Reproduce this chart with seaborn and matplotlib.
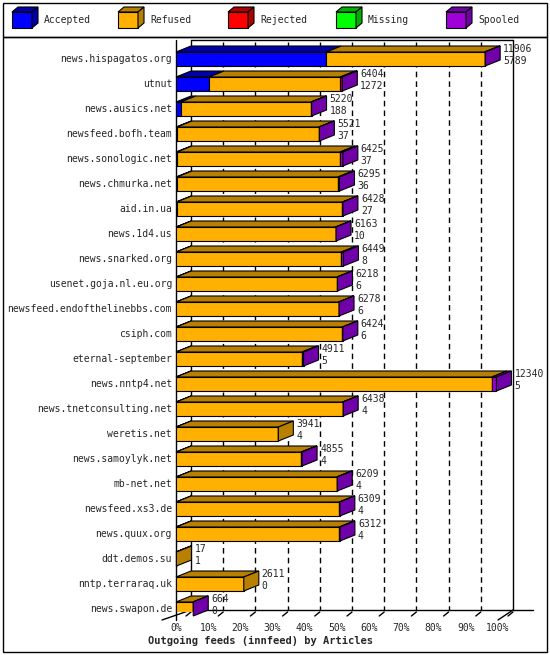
import matplotlib
matplotlib.use("Agg")
import matplotlib.pyplot as plt
import seaborn as sns
import numpy as np
from matplotlib.patches import Polygon, Rectangle

sns.set_style("white")
plt.rcParams['font.family'] = ['DejaVu Sans Mono']

hosts = ["news.hispagatos.org", "utnut", "news.ausics.net", "newsfeed.bofh.team",
         "news.sonologic.net", "news.chmurka.net", "aid.in.ua", "news.1d4.us",
         "news.snarked.org", "usenet.goja.nl.eu.org", "newsfeed.endofthelinebbs.com",
         "csiph.com", "eternal-september", "news.nntp4.net", "news.tnetconsulting.net",
         "weretis.net", "news.samoylyk.net", "mb-net.net", "newsfeed.xs3.de",
         "news.quux.org", "ddt.demos.su", "nntp.terraraq.uk", "news.swapon.de"]
offered = [11906, 6404, 5220, 5521, 6425, 6295, 6428, 6163, 6449, 6218, 6278, 6424,
           4911, 12340, 6438, 3941, 4855, 6209, 6309, 6312, 17, 2611, 664]
accepted = [5789, 1272, 188, 37, 37, 36, 27, 10, 8, 6, 6, 6, 5, 5, 4, 4, 4, 4, 4, 4, 1, 0, 0]
rejected = [0, 60, 0, 0, 0, 0, 0, 0, 0, 0, 0, 0, 0, 0, 0, 0, 0, 0, 0, 0, 0, 0, 0]
missing = [0] * 23
spooled = [20, 20, 20, 20, 110, 60, 20, 20, 80, 20, 20, 20, 60, 180, 20, 0, 30, 20, 20, 20, 0, 0, 5]
refused = [o - a - r - m - s for o, a, r, m, s in zip(offered, accepted, rejected, missing, spooled)]

names = ["Accepted", "Refused", "Rejected", "Missing", "Spooled"]
front = ["#0000ff", "#ffb000", "#ff0000", "#00ff00", "#a000d8"]
dark = ["#0000a8", "#b88000", "#b00000", "#00b000", "#7000a8"]

W, H = 550, 655
fig = plt.figure(figsize=(W / 100, H / 100), dpi=100)
XMAX = 12400
px_left, px_right, px_top, px_bot = 176, 498, 40, 612
ax = fig.add_axes([px_left / W, 1 - px_bot / H, (px_right - px_left) / W, (px_bot - px_top) / H])
row0, rowsp = 59, 25
ax.set_xlim(0, XMAX)
ax.set_ylim((px_bot - row0) / rowsp, (px_top - row0) / rowsp)
ax.axis("off")
dxd = 15 * XMAX / (px_right - px_left)
dyd = 6 / rowsp
bh = 14 / rowsp
FS = 7

segs = [accepted, refused, rejected, missing, spooled]
n = len(hosts)
ypos = np.arange(n)
left = np.zeros(n)
for k, seg in enumerate(segs):
    seg = np.array(seg, float)
    ax.barh(ypos, seg, left=left, height=bh, color=front[k], edgecolor="black", linewidth=0.8, zorder=3)
    for i in range(n):
        if seg[i] > 0:
            x0, x1 = left[i], left[i] + seg[i]
            yt = i - bh / 2
            ax.add_patch(Polygon([(x0, yt), (x1, yt), (x1 + dxd, yt - dyd), (x0 + dxd, yt - dyd)],
                                 closed=True, facecolor=dark[k], edgecolor="black", lw=0.8, zorder=3, clip_on=False))
    left += seg
for i in range(n):
    last = max(k for k in range(5) if segs[k][i] > 0)
    x1 = left[i]
    yt, yb = i - bh / 2, i + bh / 2
    ax.add_patch(Polygon([(x1, yb), (x1, yt), (x1 + dxd, yt - dyd), (x1 + dxd, yb - dyd)],
                         closed=True, facecolor=dark[last], edgecolor="black", lw=0.8, zorder=3, clip_on=False))
    tx = x1 + dxd + 3 * XMAX / 322
    ax.text(tx, i - 0.4, str(offered[i]), fontsize=FS, va="center", ha="left", zorder=4, clip_on=False)
    ax.text(tx, i + 0.08, str(accepted[i]), fontsize=FS, va="center", ha="left", zorder=4, clip_on=False)
    ax.text(-4 * XMAX / 322, i, hosts[i], fontsize=FS, va="center", ha="right", clip_on=False)

# overlay in pixel coordinates
ov = fig.add_axes([0, 0, 1, 1], zorder=-1)
ov.set_xlim(0, W); ov.set_ylim(H, 0); ov.axis("off")
ov.add_patch(Rectangle((3, 3), 544, 34, fill=False, lw=1, ec="black"))
ov.add_patch(Rectangle((3, 37), 544, 615, fill=False, lw=1, ec="black"))
step = (px_right - px_left) / 10
for j in range(11):
    x = px_left + 15 + j * step
    if j in (0, 10):
        ov.plot([x, x], [px_top, px_bot - 2], color="black", lw=1)
    else:
        ov.plot([x, x], [px_top + 2, px_bot - 2], color="black", lw=1, ls=(0, (4, 3)))
    xf = px_left + j * step
    ov.plot([xf + 10, xf + 15], [px_bot + 4, px_bot], color="black", lw=1)
    ov.text(xf, 628, f"{j*10}%", fontsize=FS, ha="center", va="center")
ov.plot([px_left, px_left], [px_top, px_bot + 8], color="black", lw=1)
ov.plot([px_left, px_right + 35], [px_bot - 2, px_bot - 2], color="black", lw=1)
ov.plot([px_left - 14, px_left + 15], [px_bot + 8, px_bot - 2], color="black", lw=1)
ov.plot([px_right, px_right + 15], [px_bot + 8, px_bot - 2], color="black", lw=1)
ov.plot([px_left + 15, px_right + 15], [px_top, px_top], color="black", lw=1)
ov.text(148, 641, "Outgoing feeds (innfeed) by Articles", fontsize=7.5, fontweight="bold", ha="left", va="center")

lx = [12, 118, 228, 336, 446]
for k in range(5):
    x = lx[k]
    ov.add_patch(Rectangle((x, 12), 20, 16, facecolor=front[k], ec="black", lw=0.8))
    ov.add_patch(Polygon([(x, 12), (x + 20, 12), (x + 26, 7), (x + 6, 7)], facecolor=dark[k], ec="black", lw=0.8))
    ov.add_patch(Polygon([(x + 20, 12), (x + 26, 7), (x + 26, 23), (x + 20, 28)], facecolor=dark[k], ec="black", lw=0.8))
    ov.text(x + 32, 20, names[k], fontsize=FS, ha="left", va="center")

fig.savefig("out.png", dpi=100, facecolor="white")
